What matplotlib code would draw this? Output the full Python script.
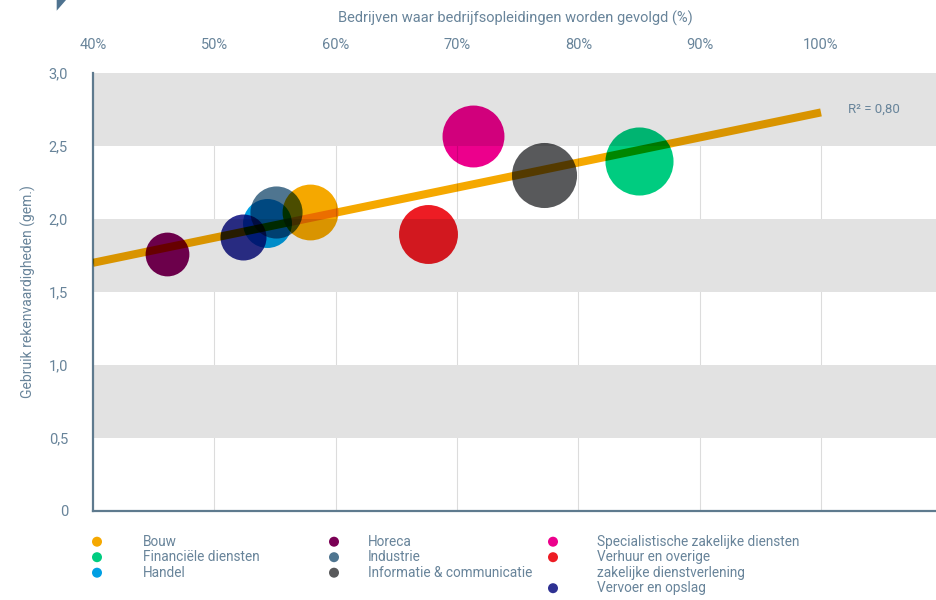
import numpy as np
import matplotlib
matplotlib.use("Agg")
import matplotlib.pyplot as plt
from matplotlib.patches import Polygon, Ellipse

# ── data ──────────────────────────────────────────────────────────────────────
sectors = [
    "Bouw",
    "Financiële diensten",
    "Handel",
    "Horeca",
    "Industrie",
    "Informatie & communicatie",
    "Specialistische zakelijke diensten",
    "Verhuur en overige\nzakelijke dienstverlening",
    "Vervoer en opslag",
]
opleiding_pct = [57.9, 85.0, 54.3, 46.1, 55.1, 77.2, 71.3, 67.6, 52.4]
rekenen_gem   = [2.05, 2.40, 1.97, 1.76, 2.05, 2.30, 2.57, 1.90, 1.88]
bubble_value  = [78, 116, 60, 48, 68, 106, 96, 87, 53]

trend_x = [40, 100]
trend_y = [1.70, 2.73]
r_squared = 0.80

x_ticks = [40, 50, 60, 70, 80, 90, 100]
y_ticks = [0, 0.5, 1.0, 1.5, 2.0, 2.5, 3.0]
y_bands = [(0.5, 1.0), (1.5, 2.0), (2.5, 3.0)]

# ── style ─────────────────────────────────────────────────────────────────────
sector_colors = ["#F5A800", "#00CC80", "#009FE3", "#7A0055", "#4F7590",
                 "#58595B", "#EC008C", "#ED1C24", "#2E3192"]
legend_cols = [[0, 1, 2], [3, 4, 5], [6, 7, 8]]
trend_color = "#F5A800"
text_color = "#68849A"
axis_color = "#5E7A8E"
band_color = "#E2E2E2"

plt.rcParams["font.family"] = ["Roboto", "DejaVu Sans"]

W, H, DPI = 937, 600, 100
AX_POS = [93 / W, 89 / H, 844 / W, 438 / H]
XLIM = (40, 40 + 844 / (728 / 60))
YLIM = (0, 3)
AREA_SCALE = 20.7


def draw_trend(ax):
    return ax.plot(trend_x, trend_y, color=trend_color, lw=5.8,
                   solid_capstyle="butt", zorder=3)[0]


def draw_bubble(ax, i):
    return ax.scatter([opleiding_pct[i]], [rekenen_gem[i]],
                      s=bubble_value[i] * AREA_SCALE, color=sector_colors[i],
                      linewidths=0, zorder=4)


def render_alone(draw):
    """Render one mark on white, same geometry as the main axes."""
    f = plt.figure(figsize=(W / DPI, H / DPI), dpi=DPI, facecolor="white")
    a = f.add_axes(AX_POS)
    a.set_xlim(*XLIM)
    a.set_ylim(*YLIM)
    a.set_axis_off()
    draw(a)
    f.canvas.draw()
    img = np.asarray(f.canvas.buffer_rgba())[..., :3].astype(float) / 255
    plt.close(f)
    return img


# ── main figure ───────────────────────────────────────────────────────────────
fig = plt.figure(figsize=(W / DPI, H / DPI), dpi=DPI, facecolor="white")
ax = fig.add_axes(AX_POS)
ax.set_xlim(*XLIM)
ax.set_ylim(*YLIM)

for x in x_ticks[1:]:
    ax.axvline(x, color="#DCDCDC", lw=0.8, zorder=0)
for lo, hi in y_bands:
    ax.axhspan(lo, hi, color=band_color, lw=0, zorder=1)

for side in ("top", "right"):
    ax.spines[side].set_visible(False)
for side in ("left", "bottom"):
    ax.spines[side].set_color(axis_color)
    ax.spines[side].set_linewidth(1.6)
    ax.spines[side].set_zorder(6)

ax.xaxis.tick_top()
ax.xaxis.set_label_position("top")
ax.set_xticks(x_ticks)
ax.set_xticklabels([f"{v}%" for v in x_ticks])
ax.set_yticks(y_ticks)
ax.set_yticklabels(["0" if v == 0 else f"{v:.1f}".replace(".", ",") for v in y_ticks])
ax.tick_params(length=0, labelsize=10.5, colors=text_color)
ax.tick_params(axis="x", pad=15)
ax.tick_params(axis="y", pad=18)
ax.set_xlabel("Bedrijven waar bedrijfsopleidingen worden gevolgd (%)",
              fontsize=10.5, color=text_color, labelpad=11)
ax.set_ylabel("Gebruik rekenvaardigheden (gem.)", fontsize=10,
              color=text_color, labelpad=9)

ax.text(102.2, 2.75, f"R² = {r_squared:.2f}".replace(".", ","),
        fontsize=9.5, color=text_color, va="center", ha="left")

# marks (redrawn below as a multiply blend)
marks = [draw_trend(ax)] + [draw_bubble(ax, i) for i in range(len(sectors))]

# small corner marker
fig.patches.append(Polygon([[56.7 / W, 1], [66 / W, 1], [56.7 / W, 1 - 10.7 / H]],
                           closed=True, transform=fig.transFigure,
                           color="#4F7390", lw=0))

# legend
col_x = [(97, 143), (334, 368), (553, 597)]
row_y = [541.7, 557.2, 572.7, 588.2]
dot_r = 5.0
for (mx, tx), idxs in zip(col_x, legend_cols):
    row = 0
    for i in idxs:
        y = 1 - row_y[row] / H
        fig.patches.append(Ellipse((mx / W, y), 2 * dot_r / W, 2 * dot_r / H,
                                   transform=fig.transFigure,
                                   color=sector_colors[i], lw=0))
        fig.text(tx / W, y + 7 / H, sectors[i], fontsize=9.8, color=text_color,
                 va="top", ha="left", linespacing=1.15)
        row += sectors[i].count("\n") + 1

# ── multiply blend of trend line and bubbles over the background ──────────────
for m in marks:
    m.set_visible(False)
fig.canvas.draw()
base = np.asarray(fig.canvas.buffer_rgba())[..., :3].astype(float) / 255
for m in marks:
    m.set_visible(True)

layers = np.ones_like(base)
layers *= render_alone(draw_trend)
for i in range(len(sectors)):
    layers *= render_alone(lambda a, i=i: draw_bubble(a, i))

mask = np.any(layers < 0.999, axis=-1).astype(float)
blend = np.dstack([base * layers, mask])
fig.figimage(blend, xo=0, yo=0, origin="upper", zorder=10)

fig.savefig("out.png", dpi=DPI, facecolor="white")
